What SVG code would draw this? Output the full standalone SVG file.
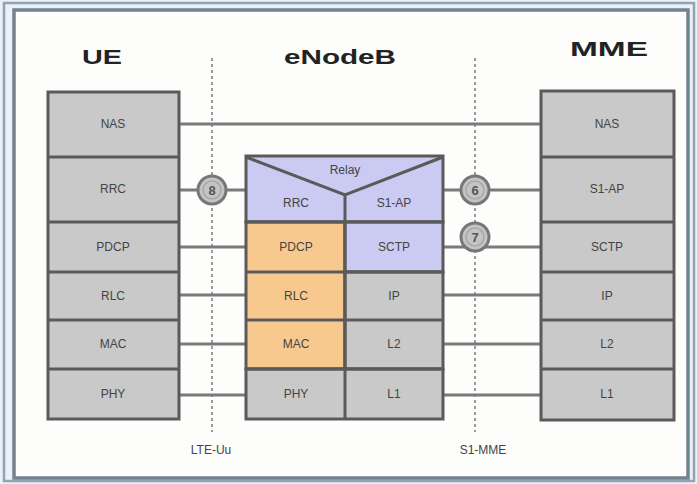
<svg xmlns="http://www.w3.org/2000/svg" width="697" height="484" viewBox="0 0 697 484">
<style>
.g{fill:#c9c9c9;stroke:#5a5a5a;stroke-width:3}
.p{fill:#cacaf2;stroke:#5a5a5a;stroke-width:3}
.o{fill:#f7c98f;stroke:#5a5a5a;stroke-width:3}
.div{stroke:#5a5a5a;stroke-width:3;fill:none}
.l{font-family:"Liberation Sans",Arial,sans-serif;font-size:12px;fill:#444;text-anchor:middle}
.t{font-family:"Liberation Sans",Arial,sans-serif;font-size:20px;font-weight:bold;fill:#222;text-anchor:middle}
.b{font-family:"Liberation Sans",Arial,sans-serif;font-size:12px;fill:#444;text-anchor:middle}
.c{stroke:#7a7a7a;stroke-width:3;fill:none}
.d{stroke:#9a9a9a;stroke-width:2;stroke-dasharray:3 3;fill:none}
.circ{fill:#c4c4c4;stroke:#777;stroke-width:3}
.ci{fill:none;stroke:#a8a8a8;stroke-width:1.5}
.n{font-family:"Liberation Sans",Arial,sans-serif;font-size:13px;font-weight:bold;fill:#555;text-anchor:middle}
</style>
<rect x="0" y="0" width="697" height="484" fill="#eaf1f7"/>
<rect x="4" y="3" width="690" height="478" fill="none" stroke="#93a3b3" stroke-width="2.5"/>
<rect x="14" y="10" width="674" height="468" fill="#fdfdfb" stroke="#73828f" stroke-width="3.5"/>

<g id="titles">
<text class="t" x="102" y="64" textLength="40" lengthAdjust="spacingAndGlyphs">UE</text>
<text class="t" x="340" y="64" textLength="112" lengthAdjust="spacingAndGlyphs">eNodeB</text>
<text class="t" x="609" y="56" textLength="78" lengthAdjust="spacingAndGlyphs">MME</text>
</g>

<g id="connectors">
<line class="d" x1="212" y1="58" x2="212" y2="432"/>
<line class="d" x1="475" y1="58" x2="475" y2="432"/>
<line class="c" x1="180" y1="124" x2="540" y2="124"/>
<line class="c" x1="180" y1="190" x2="245" y2="190"/>
<line class="c" x1="180" y1="247" x2="245" y2="247"/>
<line class="c" x1="180" y1="295" x2="245" y2="295"/>
<line class="c" x1="180" y1="344" x2="245" y2="344"/>
<line class="c" x1="180" y1="395" x2="245" y2="395"/>
<line class="c" x1="443" y1="190" x2="540" y2="190"/>
<line class="c" x1="443" y1="247" x2="540" y2="247"/>
<line class="c" x1="443" y1="295" x2="540" y2="295"/>
<line class="c" x1="443" y1="344" x2="540" y2="344"/>
<line class="c" x1="443" y1="395" x2="540" y2="395"/>
</g>

<g id="ue">
<rect class="g" x="48" y="92" width="131" height="327"/>
<path class="div" d="M48 157H179M48 222H179M48 272H179M48 320H179M48 369H179"/>
<text class="l" x="113" y="128">NAS</text>
<text class="l" x="113" y="193">RRC</text>
<text class="l" x="113" y="251">PDCP</text>
<text class="l" x="113" y="300">RLC</text>
<text class="l" x="113" y="348">MAC</text>
<text class="l" x="113" y="398">PHY</text>
</g>

<g id="enodeb">
<rect class="p" x="246" y="156" width="197" height="66"/>
<rect class="o" x="246" y="222" width="99" height="147"/>
<rect class="p" x="345" y="222" width="98" height="50"/>
<rect class="g" x="345" y="272" width="98" height="97"/>
<rect class="g" x="246" y="369" width="197" height="50"/>
<path class="div" d="M246 157L345 195L443 157M345 195V419M246 222H443M246 272H443M246 320H443M246 369H443"/>
<text class="l" x="345" y="174">Relay</text>
<text class="l" x="296" y="207">RRC</text>
<text class="l" x="394" y="207">S1-AP</text>
<text class="l" x="296" y="251">PDCP</text>
<text class="l" x="394" y="251">SCTP</text>
<text class="l" x="296" y="300">RLC</text>
<text class="l" x="394" y="300">IP</text>
<text class="l" x="296" y="348">MAC</text>
<text class="l" x="394" y="348">L2</text>
<text class="l" x="296" y="398">PHY</text>
<text class="l" x="394" y="398">L1</text>
</g>

<g id="mme">
<rect class="g" x="541" y="91" width="133" height="329"/>
<path class="div" d="M541 157H674M541 222H674M541 272H674M541 320H674M541 369H674"/>
<text class="l" x="607" y="128">NAS</text>
<text class="l" x="607" y="193">S1-AP</text>
<text class="l" x="607" y="251">SCTP</text>
<text class="l" x="607" y="300">IP</text>
<text class="l" x="607" y="348">L2</text>
<text class="l" x="607" y="398">L1</text>
</g>

<g id="circle-8">
<circle class="circ" cx="212" cy="190" r="14"/>
<circle class="ci" cx="212" cy="190" r="9"/>
<text class="n" x="212" y="195">8</text>
</g>
<g id="circle-6">
<circle class="circ" cx="475" cy="190" r="14"/>
<circle class="ci" cx="475" cy="190" r="9"/>
<text class="n" x="475" y="195">6</text>
</g>
<g id="circle-7">
<circle class="circ" cx="475" cy="237" r="14"/>
<circle class="ci" cx="475" cy="237" r="9"/>
<text class="n" x="475" y="242">7</text>
</g>

<g id="labels">
<text class="b" x="211" y="454">LTE-Uu</text>
<text class="b" x="483" y="454">S1-MME</text>
</g>
</svg>
